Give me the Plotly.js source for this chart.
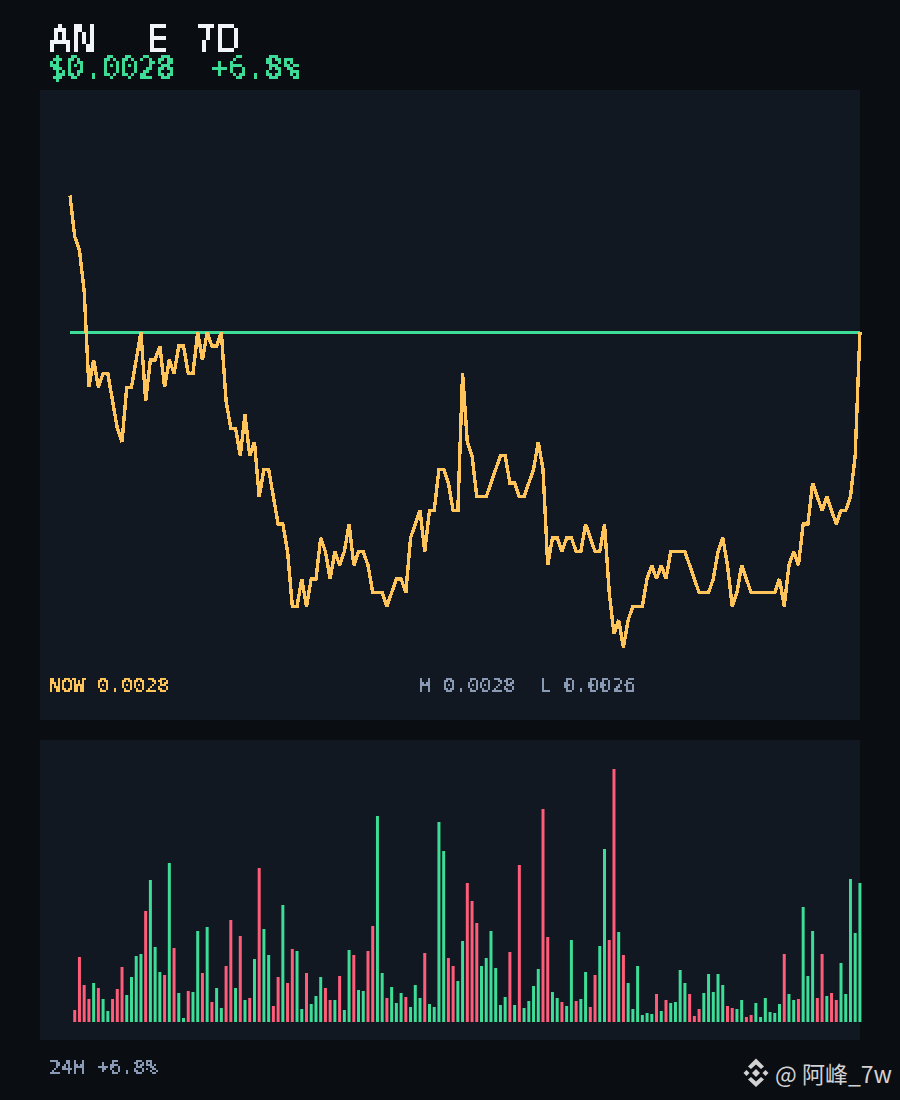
<!DOCTYPE html>
<html>
<head>
<meta charset="utf-8">
<script src="https://cdn.plot.ly/plotly-3.0.1.min.js"></script>
<style>
html,body{margin:0;padding:0;background:#0a0d12;}
#chart{width:900px;height:1100px;}
.scatterlayer .js-line{shape-rendering:crispEdges;}
.annotation[data-index="0"]{filter:url(#px4);}
.annotation[data-index="1"]{filter:url(#px3);}
.annotation[data-index="2"],.annotation[data-index="3"],.annotation[data-index="4"]{filter:url(#px2);}
</style>
</head>
<body>
<svg width="0" height="0" style="position:absolute">
<defs>
<filter id="px4" filterUnits="userSpaceOnUse" x="0" y="0" width="900" height="1100" color-interpolation-filters="sRGB">
<feFlood x="4" y="2" width="1" height="1"/><feComposite x="2" y="0" width="4" height="4"/><feTile x="0" y="0" width="900" height="1100" result="g"/>
<feConvolveMatrix in="SourceGraphic" order="4" kernelMatrix="1 1 1 1 1 1 1 1 1 1 1 1 1 1 1 1" divisor="16" targetX="2" targetY="2" preserveAlpha="false" result="avg"/>
<feComposite in="avg" in2="g" operator="in"/>
<feComponentTransfer><feFuncA type="discrete" tableValues="0 1"/></feComponentTransfer>
<feConvolveMatrix order="4" kernelMatrix="1 1 1 1 1 1 1 1 1 1 1 1 1 1 1 1" divisor="1" targetX="1" targetY="1" preserveAlpha="false"/>
</filter>
<filter id="px3" filterUnits="userSpaceOnUse" x="0" y="0" width="900" height="1100" color-interpolation-filters="sRGB">
<feFlood x="3" y="2" width="1" height="1"/><feComposite x="2" y="1" width="3" height="3"/><feTile x="0" y="0" width="900" height="1100" result="g"/>
<feConvolveMatrix in="SourceGraphic" order="3" kernelMatrix="1 1 1 1 1 1 1 1 1" divisor="9" targetX="1" targetY="1" preserveAlpha="false" result="avg"/>
<feComposite in="avg" in2="g" operator="in"/>
<feComponentTransfer><feFuncA type="discrete" tableValues="0 0 1 1 1"/></feComponentTransfer>
<feConvolveMatrix order="3" kernelMatrix="1 1 1 1 1 1 1 1 1" divisor="1" targetX="1" targetY="1" preserveAlpha="false"/>
</filter>
<filter id="px2" filterUnits="userSpaceOnUse" x="0" y="0" width="900" height="1100" color-interpolation-filters="sRGB">
<feFlood x="1" y="1" width="1" height="1"/><feComposite x="0" y="0" width="2" height="2"/><feTile x="0" y="0" width="900" height="1100" result="g"/>
<feConvolveMatrix in="SourceGraphic" order="2" kernelMatrix="1 1 1 1" divisor="4" targetX="1" targetY="1" preserveAlpha="false" result="avg"/>
<feComposite in="avg" in2="g" operator="in"/>
<feComponentTransfer><feFuncA type="discrete" tableValues="0 0 1 1 1"/></feComponentTransfer>
<feConvolveMatrix order="2" kernelMatrix="1 1 1 1" divisor="1" targetX="0" targetY="0" preserveAlpha="false"/>
</filter>
</defs>
</svg>
<div id="chart"></div>
<script>
const price = [
.00290,.00287,.00286,.00283,.00276,.00278,.00276,.00277,.00277,.00275,
.00273,.00272,.00276,.00276,.00278,.00280,.00275,.00278,.00278,.00279,
.00276,.00278,.00277,.00279,.00279,.00277,.00277,.00280,.00278,.00280,
.00279,.00279,.00280,.00275,.00273,.00273,.00271,.00274,.00271,.00272,
.00268,.00270,.00270,.00268,.00266,.00266,.00264,.00260,.00260,.00262,
.00260,.00262,.00262,.00265,.00264,.00262,.00264,.00263,.00264,.00266,
.00263,.00264,.00264,.00263,.00261,.00261,.00261,.00260,.00261,.00262,
.00262,.00261,.00265,.00266,.00267,.00264,.00267,.00267,.00270,.00270,
.00269,.00267,.00267,.00277,.00272,.00271,.00268,.00268,.00268,.00269,
.00270,.00271,.00271,.00269,.00269,.00268,.00268,.00269,.00270,.00272,
.00270,.00263,.00265,.00265,.00264,.00265,.00265,.00264,.00264,.00266,
.00265,.00264,.00264,.00266,.00261,.00258,.00259,.00257,.00259,.00260,
.00260,.00260,.00262,.00263,.00262,.00263,.00262,.00264,.00264,.00264,
.00264,.00263,.00262,.00261,.00261,.00261,.00262,.00264,.00265,.00263,
.00260,.00261,.00263,.00262,.00261,.00261,.00261,.00261,.00261,.00261,
.00262,.00260,.00263,.00264,.00263,.00266,.00266,.00269,.00268,.00267,
.00268,.00267,.00266,.00267,.00267,.00268,.00271,.00280];
const volume = [
0,12,65,37,23,39,34,23,11,23,
33,55,27,45,66,68,111,142,75,50,
47,159,74,29,4,31,30,91,49,95,
20,34,14,56,102,34,86,22,24,63,
154,93,67,16,45,117,39,73,71,13,
49,18,26,45,34,22,22,46,12,72,
67,32,31,71,96,206,49,24,35,19,
29,25,15,37,24,69,18,15,200,171,
64,56,41,81,139,121,99,56,64,91,
54,17,25,70,17,157,14,21,36,53,
213,85,30,24,20,16,82,21,23,50,
15,47,76,173,82,253,90,67,39,13,
56,7,9,8,28,11,22,19,20,52,
39,28,6,13,29,48,30,48,37,16,
14,13,22,5,7,19,5,24,10,9,
18,68,28,22,23,115,46,91,24,68,
26,29,22,59,28,143,89,139];
const hours = price.map((_, i) => i);
const lastPrice = price[price.length - 1];
const titleText = "AN\u00a0\u00a0E\u00a07D";
const priceText = "$0.0028\u00a0\u00a0+6.8%";
const nowText = "NOW 0.0028";
const rangeText = "H 0.0028\u00a0\u00a0L 0.0026";
const changeText = "24H +6.8%";
const markText = "@\u00a0阿峰_7w";

const UP = "#3ddc97", DOWN = "#ff5c7a", AMBER = "#ffc45a", SLATE = "#8a9ab5", PANEL = "#111822";
const barColors = price.map((p, i) => (i > 0 && p < price[i - 1]) ? DOWN : UP);
const MONO = '"DejaVu Sans Mono", monospace';
const px = x => x / 900, py = y => 1 - y / 1100;

function note(text, x, y, size, color, family) {
  return {text, x: px(x), y: py(y), xref: "paper", yref: "paper", xanchor: "left", yanchor: "middle",
    showarrow: false, borderpad: 0, borderwidth: 0, align: "left",
    font: {family: family || MONO, size, color}};
}
function poly(points) {
  return {type: "path", xref: "paper", yref: "paper", line: {width: 0}, fillcolor: "#d2d2d2", layer: "above",
    path: "M" + points.map(p => px(p[0]).toFixed(5) + "," + py(p[1]).toFixed(5)).join("L") + "Z"};
}
function dia(cx, cy, r) { return poly([[cx, cy - r], [cx + r, cy], [cx, cy + r], [cx - r, cy]]); }
function panel(x0, y0, x1, y1) {
  return {type: "rect", xref: "paper", yref: "paper", layer: "below", line: {width: 0}, fillcolor: PANEL,
    x0: px(x0), x1: px(x1), y0: py(y0), y1: py(y1)};
}
const logo = [
  dia(756, 1073, 4), dia(746.5, 1073, 3), dia(765.5, 1073, 3),
  poly([[756, 1058.5], [764, 1066.5], [761, 1069], [756, 1064.5], [751, 1069], [748, 1066.5]]),
  poly([[756, 1087], [764, 1079.5], [761, 1077], [756, 1081.5], [751, 1077], [748, 1079.5]])
];

const traces = [
  {type: "scatter", mode: "lines", x: [hours[0], hours[hours.length - 1]], y: [lastPrice, lastPrice],
    line: {color: UP, width: 3}, xaxis: "x", yaxis: "y", cliponaxis: false, hoverinfo: "skip"},
  {type: "scatter", mode: "lines", x: hours, y: price,
    line: {color: AMBER, width: 3.4, shape: "linear"}, xaxis: "x", yaxis: "y", cliponaxis: false, hoverinfo: "skip"},
  {type: "bar", x: hours, y: volume, width: 0.634, marker: {color: barColors, line: {width: 0}},
    xaxis: "x2", yaxis: "y2", cliponaxis: false, hoverinfo: "skip"}
];
const layout = {
  width: 900, height: 1100, margin: {l: 0, r: 0, t: 0, b: 0},
  paper_bgcolor: "#0a0d12", plot_bgcolor: "rgba(0,0,0,0)", showlegend: false, hovermode: false,
  xaxis: {domain: [px(40), px(870)], range: [-6.34, 169.13], visible: false, fixedrange: true, anchor: "y"},
  yaxis: {domain: [py(720), py(90)], range: [0.002517, 0.002977], visible: false, fixedrange: true, anchor: "x"},
  xaxis2: {domain: [px(40), px(870)], range: [-6.34, 169.13], visible: false, fixedrange: true, anchor: "y2"},
  yaxis2: {domain: [py(1040), py(740)], range: [-18, 282], visible: false, fixedrange: true, anchor: "x2"},
  annotations: [
    note(titleText, 48, 39, 40, "#f2f4f8"),
    note(priceText, 48, 68, 30, UP),
    note(nowText, 49, 685, 20, AMBER),
    note(rangeText, 419, 685, 20, SLATE),
    note(changeText, 49, 1067, 20, SLATE),
    note(markText, 775, 1073, 23, "#d2d2d2", '"Noto Sans CJK SC", sans-serif')
  ],
  shapes: [panel(40, 90, 860, 720), panel(40, 740, 860, 1040)].concat(logo)
};
Plotly.newPlot("chart", traces, layout, {displayModeBar: false, staticPlot: true});
</script>
</body>
</html>
